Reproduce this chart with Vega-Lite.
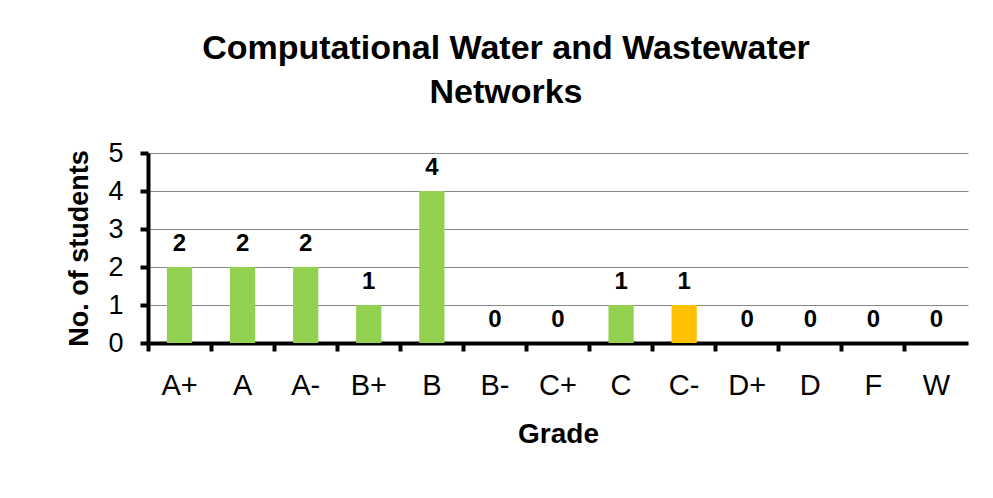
{
  "$schema": "https://vega.github.io/schema/vega-lite/v6.json",
  "width": 820,
  "height": 190,
  "autosize": "none",
  "padding": {"left": 148, "top": 153, "right": 25, "bottom": 155},
  "background": "white",
  "title": {
    "text": ["Computational Water and Wastewater", "Networks"],
    "font": "Liberation Sans",
    "fontSize": 34,
    "fontWeight": "bold",
    "color": "black",
    "anchor": "middle",
    "frame": "group",
    "dx": -52,
    "lineHeight": 44,
    "offset": 29
  },
  "data": {
    "values": [
      {"grade": "A+", "count": 2, "group": "normal"},
      {"grade": "A", "count": 2, "group": "normal"},
      {"grade": "A-", "count": 2, "group": "normal"},
      {"grade": "B+", "count": 1, "group": "normal"},
      {"grade": "B", "count": 4, "group": "normal"},
      {"grade": "B-", "count": 0, "group": "normal"},
      {"grade": "C+", "count": 0, "group": "normal"},
      {"grade": "C", "count": 1, "group": "normal"},
      {"grade": "C-", "count": 1, "group": "highlight"},
      {"grade": "D+", "count": 0, "group": "normal"},
      {"grade": "D", "count": 0, "group": "normal"},
      {"grade": "F", "count": 0, "group": "normal"},
      {"grade": "W", "count": 0, "group": "normal"}
    ]
  },
  "encoding": {
    "x": {
      "field": "grade",
      "type": "nominal",
      "sort": null,
      "scale": {"paddingInner": 0, "paddingOuter": 0},
      "axis": {
        "bandPosition": 0,
        "labelAngle": 0,
        "labelFont": "Liberation Sans",
        "labelFontSize": 29,
        "labelColor": "black",
        "labelPadding": 20,
        "domainColor": "black",
        "domainWidth": 4,
        "tickColor": "black",
        "tickWidth": 4,
        "tickSize": 8,
        "title": "Grade",
        "titleFont": "Liberation Sans",
        "titleFontSize": 28,
        "titleFontWeight": "bold",
        "titleColor": "black",
        "titlePadding": 20
      }
    },
    "y": {
      "field": "count",
      "type": "quantitative",
      "scale": {"domain": [0, 5], "nice": false},
      "axis": {
        "values": [0, 1, 2, 3, 4, 5],
        "format": "d",
        "labelFont": "Liberation Sans",
        "labelFontSize": 27,
        "labelColor": "black",
        "labelPadding": 17,
        "domainColor": "black",
        "domainWidth": 4,
        "tickColor": "black",
        "tickWidth": 4,
        "tickSize": 8,
        "grid": true,
        "gridColor": "#878787",
        "gridWidth": 1.2,
        "title": "No. of students",
        "titleFont": "Liberation Sans",
        "titleFontSize": 27,
        "titleFontWeight": "bold",
        "titleColor": "black",
        "titlePadding": 14
      }
    }
  },
  "layer": [
    {
      "mark": {"type": "bar", "width": {"band": 0.4}},
      "encoding": {
        "color": {
          "field": "group",
          "type": "nominal",
          "scale": {"domain": ["normal", "highlight"], "range": ["#92D050", "#FFC000"]},
          "legend": null
        }
      }
    },
    {
      "mark": {
        "type": "text",
        "font": "Liberation Sans",
        "fontSize": 24,
        "fontWeight": "bold",
        "color": "black",
        "baseline": "alphabetic",
        "dy": -16
      },
      "encoding": {
        "text": {"field": "count", "type": "quantitative"}
      }
    }
  ],
  "config": {
    "view": {"stroke": null}
  }
}
